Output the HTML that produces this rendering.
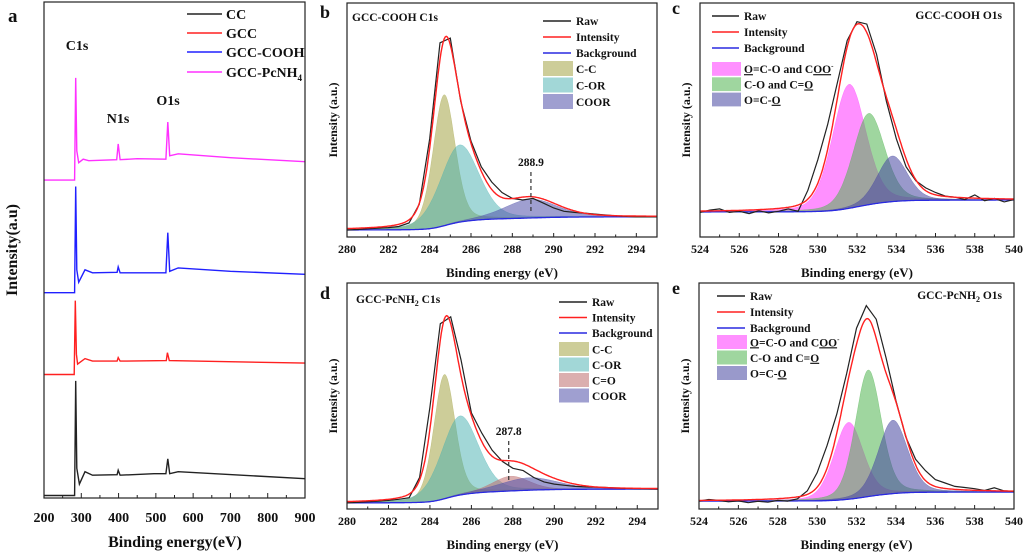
<!DOCTYPE html>
<html><head><meta charset="utf-8">
<style>
html,body{margin:0;padding:0;background:#fff;}
svg{display:block;font-family:"Liberation Serif",serif;font-weight:bold;}
</style></head>
<body>
<svg id="fig" width="1024" height="554" viewBox="0 0 1024 554" xmlns="http://www.w3.org/2000/svg"></svg>
<script>
// ---------- Panel a: survey data (eV, intensity 0-100) ----------
const surveyTicks = [200,300,400,500,600,700,800,900];
const pinkX = [200,282,285,288,293,305,320,395,399,404,450,527,532,537,560,700,900];
const pinkY = [64.1,64.1,84.7,70,67.6,68.3,68,68.2,71.4,68.2,68.4,68.3,75.8,69,69.4,68.6,67.8];
const blueX = [200,282,285,288,293,310,330,396,399,404,527,532,537,560,700,900];
const blueY = [41.4,41.4,62.8,46,43.5,46,45.4,45.5,46.6,45.4,45.4,53.5,45.7,46.4,45.7,45.1];
const redX = [200,281,284,287,290,310,330,396,399,404,528,531,536,900];
const redY = [24.9,24.9,39.8,29,27,28.1,27.6,27.6,28.3,27.6,27.7,29.3,27.7,27.2];
const blackX = [200,282,285,288,295,310,330,396,399,404,495,527,532,537,560,900];
const blackY = [0.5,0.5,23.6,6,2.8,5.3,4.6,4.7,5.6,4.6,4.9,4.9,7.9,4.9,5.3,3.9];

// ---------- Panel b: GCC-COOH C1s ----------
const bCenters = [284.7,285.45,288.9];
const bHeights = [56,33,8];
const bFwhm = [1.25,2.2,3.0];
const bBg = [3,8.6];
const bRawY = [3,3.2,3.5,3.8,4,4.5,6,14,42,83,85,58,41,30,23.5,19,16.5,15.8,16.5,14.5,12.4,11,10.5,10.2,9.8,9.4,9,8.8,8.6,8.6,8.6];
// ---------- Panel d: GCC-PcNH2 C1s ----------
const dCenters = [284.7,285.45,287.9,288.8];
const dHeights = [55,35,6.5,5.5];
const dFwhm = [1.2,2.1,2.1,3.3];
const dBg = [2.7,8.8];
const dRawY = [2.7,2.9,3.2,3.5,3.8,4.3,5,14,45,82,85,66,42.5,33.6,26,21,18,17,14,12,11,10.5,10,9.8,9.7,9.5,9.3,9.1,9,8.9,8.8];
// ---------- Panel c: GCC-COOH O1s ----------
const cCenters = [531.6,532.6,533.8];
const cHeights = [53,39,19.5];
const cFwhm = [2.0,1.9,1.8];
const cBg = [10.7,15.8];
const cRawY = [10.5,11.5,12,10.5,11,10,11.2,10.3,11,12,11,20,33,48,66,84,92,91,78,58,42,30,24,21,19,17.5,17,16,18,15.5,16.5,15,16];
// ---------- Panel e: GCC-PcNH2 O1s ----------
const eCenters = [531.6,532.6,533.85];
const eHeights = [34,56,32.5];
const eFwhm = [1.75,1.55,1.75];
const eBg = [3.5,7.5];
const eRawY = [3.5,4.2,3.8,3.2,3.6,2.8,3.4,3,3.8,3.5,4.5,8,16,28,42,60,80,90,84,67,48,32,22,17,13,11.5,10,9.5,9,8.2,9.4,8,7.8];

const C1sTicks = [280,282,284,286,288,290,292,294];
const O1sTicks = [524,526,528,530,532,534,536,538,540];

const NS = "http://www.w3.org/2000/svg";
const svg = document.getElementById('fig');
function el(tag, attrs, parent){
  const e = document.createElementNS(NS, tag);
  for (const k in attrs) e.setAttribute(k, attrs[k]);
  (parent||svg).appendChild(e);
  return e;
}
function txt(s, x, y, size, anchor, parent){
  const t = el('text', {x:x, y:y, 'font-size':size, 'text-anchor':anchor||'start', fill:'#111'}, parent);
  t.textContent = s;
  return t;
}

// ---------- Panel a ----------
(function(){
  const L=44,R=305,T=2,B=498;
  const g = el('g', {});
  
  
  const xs = v => L + (v-200)/(900-200)*(R-L);
  const ys = v => B - v/100*(B-T);
  const series = [[blackX,blackY,'#222','cc-survey-line'],[redX,redY,'#ff2020','gcc-survey-line'],[blueX,blueY,'#2020ff','gcc-cooh-survey-line'],[pinkX,pinkY,'#ff30ff','gcc-pcnh4-survey-line']];
  series.forEach(s=>{
    const pts = s[0].map((x,i)=>xs(x).toFixed(1)+','+ys(s[1][i]).toFixed(1)).join(' ');
    const p = el('polyline', {points:pts, fill:'none', stroke:s[2], 'stroke-width':1.4}, g);
    
    
  });
  const box = el('rect', {x:L,y:T,width:R-L,height:B-T,fill:'none',stroke:'#222','stroke-width':1.2}, g);
  
  
  surveyTicks.forEach(v=>{
    el('line',{x1:xs(v),x2:xs(v),y1:B,y2:B-5,stroke:'#222','stroke-width':1},g);
    if (v<900) el('line',{x1:xs(v+50),x2:xs(v+50),y1:B,y2:B-3,stroke:'#222','stroke-width':1},g);
    const t = txt(String(v), xs(v), 522, 14, 'middle', g);
    
    
  });
  const xt = txt('Binding energy(eV)', 175, 547, 16, 'middle', g);
  
  
  const yt = txt('Intensity(a.u)', 0, 0, 16, 'middle', g);
  yt.setAttribute('transform','translate(17,250) rotate(-90)');
  
  
  const names = ['CC','GCC','GCC-COOH','GCC-PcNH'];
  const cols = ['#222','#ff2020','#2020ff','#ff30ff'];
  const rows = [14,33,52,72];
  names.forEach((n,i)=>{
    const ln = el('line',{x1:187,x2:222,y1:rows[i],y2:rows[i],stroke:cols[i],'stroke-width':1.6},g);
    
    
    const t = txt(n, 226, rows[i]+5, 14, 'start', g);
    
    
    if (i===3){ const s = el('tspan',{'font-size':9,dy:4},t); s.textContent='4'; }
  });
  const l1 = txt('C1s', 77, 50, 14, 'middle', g);
  
  
  const l2 = txt('N1s', 118, 123, 14, 'middle', g);
  
  
  const l3 = txt('O1s', 168, 105, 14, 'middle', g);
  
  
  const pa = txt('a', 8, 22, 19, 'start', g);
  
  
})();

// ---------- XPS fit panels ----------
function pv(x, c, h, w){
  const d = x-c, hw = w/2;
  const gss = Math.exp(-4*Math.LN2*d*d/(w*w));
  const lor = 1/(1+(d/hw)*(d/hw));
  return h*(0.75*gss+0.25*lor);
}
function drawXPS(cfg){
  const g = el('g', {});
  
  
  const {L,R,T,B,x0,x1} = cfg;
  const xs = v => L + (v-x0)/(x1-x0)*(R-L);
  const ys = v => B - v/100*(B-T);
  const step = 0.05, N = Math.round((x1-x0)/step);
  const X = []; for(let i=0;i<=N;i++) X.push(x0+i*step);
  const comp = cfg.centers.map((c,k)=>X.map(x=>pv(x,c,cfg.heights[k],cfg.fwhm[k])));
  const tot = X.map((x,i)=>comp.reduce((s,cc)=>s+cc[i],0));
  let cum=0; const cu=[]; tot.forEach(v=>{cum+=v;cu.push(cum);});
  const bg = X.map((x,i)=>cfg.bg[0]+(cfg.bg[1]-cfg.bg[0])*cu[i]/cum);
  comp.forEach((cc,k)=>{
    let d = 'M'+X.map((x,i)=>xs(x).toFixed(1)+','+ys(bg[i]+cc[i]).toFixed(1)).join('L');
    for(let i=N;i>=0;i--) d += 'L'+xs(X[i]).toFixed(1)+','+ys(bg[i]).toFixed(1);
    const p = el('path',{d:d+'Z',fill:cfg.fills[k],stroke:cfg.fills[k],'stroke-width':0.5},g);
    
    
  });
  const bgl = el('polyline',{points:X.map((x,i)=>xs(x).toFixed(1)+','+ys(bg[i]).toFixed(1)).join(' '),fill:'none',stroke:'#2a2ae0','stroke-width':1.3},g);
  
  
  const raw = el('polyline',{points:cfg.raw.map((v,i)=>xs(x0+i*0.5).toFixed(1)+','+ys(v).toFixed(1)).join(' '),fill:'none',stroke:'#222','stroke-width':1.2},g);
  
  
  const fit = el('polyline',{points:X.map((x,i)=>xs(x).toFixed(1)+','+ys(bg[i]+tot[i]).toFixed(1)).join(' '),fill:'none',stroke:'#ff2020','stroke-width':1.4},g);
  
  
  const box = el('rect',{x:L,y:T,width:R-L,height:B-T,fill:'none',stroke:'#222','stroke-width':1.2},g);
  
  
  cfg.ticks.forEach((v,i)=>{
    el('line',{x1:xs(v),x2:xs(v),y1:B,y2:B-4,stroke:'#222'},g);
    if (v+1<=x1) el('line',{x1:xs(v+1),x2:xs(v+1),y1:B,y2:B-2.5,stroke:'#222'},g);
    const t = txt(String(v), xs(v), B+16, 12, 'middle', g);
    
    
  });
  const xt = txt('Binding energy (eV)', (L+R)/2, B+40, 13, 'middle', g);
  
  
  const yt = txt('Intensity (a.u.)', 0, 0, 12, 'middle', g);
  yt.setAttribute('transform','translate('+(L-10)+','+((T+B)/2)+') rotate(-90)');
  
  
  const tt = txt(cfg.title, cfg.titleX, cfg.titleY, 11.5, cfg.titleAnchor, g);
  
  
  if (cfg.titleSub){ const s1=el('tspan',{},tt); s1.textContent=cfg.titleSub[0];
    const s2=el('tspan',{'font-size':8,dy:3},tt); s2.textContent=cfg.titleSub[1];
    const s3=el('tspan',{dy:-3},tt); s3.textContent=cfg.titleSub[2]; }
  const pl = txt(cfg.letter, cfg.letterX, cfg.letterY, 18, 'start', g);
  
  
  const lg = cfg.lg;
  [['Raw','#222'],['Intensity','#ff2020'],['Background','#2a2ae0']].forEach((e,i)=>{
    const y = lg.y0 + i*lg.dy;
    const ln = el('line',{x1:lg.x,x2:lg.x+lg.w,y1:y,y2:y,stroke:e[1],'stroke-width':1.6},g);
    
    
    const t = txt(e[0], lg.x+lg.w+5, y+4, 11.5, 'start', g);
    
    
  });
  cfg.labels.forEach((lab,k)=>{
    const y = lg.b0 + k*lg.bdy;
    const r = el('rect',{x:lg.x,y:y,width:lg.w+2,height:lg.bdy-1.5,fill:cfg.fills[k]},g);
    
    
    const t = txt('', lg.x+lg.w+5, y+lg.bdy/2+3.5, 11.5, 'start', g);
    
    
    lab.split('_').forEach((part,j)=>{
      const s = el('tspan',j%2?{'text-decoration':'underline'}:{},t); s.textContent=part;
    });
    if (cfg.sup && k===0){ const s = el('tspan',{'font-size':7,dy:-5},t); s.textContent='-'; }
  });
  if (cfg.ann){
    const ax = xs(cfg.ann.x);
    const dl = el('line',{x1:ax,x2:ax,y1:cfg.ann.y1,y2:cfg.ann.y2,stroke:'#333','stroke-width':1.2,'stroke-dasharray':'4,3'},g);
    
    
    const t = txt(cfg.ann.label, ax, cfg.ann.y1-6, 11.5, 'middle', g);
    
    
  }
}
const cFills = ['rgba(175,175,90,0.62)','rgba(70,175,175,0.5)','rgba(80,80,170,0.55)'];
drawXPS({name:'gcc-cooh-c1s-panel',L:347,R:657,T:3,B:237,x0:280,x1:295,centers:bCenters,heights:bHeights,fwhm:bFwhm,bg:bBg,raw:bRawY,
  fills:cFills,labels:['C-C','C-OR','COOR'],ticks:C1sTicks,title:'GCC-COOH C1s',titleX:352,titleY:21,titleAnchor:'start',
  letter:'b',letterX:320,letterY:18,lg:{x:543,w:28,y0:21,dy:16,b0:61,bdy:16.5},ann:{x:288.9,label:'288.9',y1:172,y2:213}});
drawXPS({name:'gcc-pcnh2-c1s-panel',L:347,R:658,T:283,B:509,x0:280,x1:295,centers:dCenters,heights:dHeights,fwhm:dFwhm,bg:dBg,raw:dRawY,
  fills:['rgba(175,175,90,0.62)','rgba(70,175,175,0.5)','rgba(190,110,110,0.55)','rgba(80,80,170,0.55)'],labels:['C-C','C-OR','C=O','COOR'],ticks:C1sTicks,
  title:'',titleSub:['GCC-PcNH','2',' C1s'],titleX:356,titleY:303,titleAnchor:'start',
  letter:'d',letterX:320,letterY:299,lg:{x:559,w:28,y0:302,dy:15.5,b0:342,bdy:15.5},ann:{x:287.8,label:'287.8',y1:441,y2:480}});
const oFills = ['rgba(255,70,255,0.6)','rgba(80,180,80,0.55)','rgba(70,70,160,0.55)'];
drawXPS({name:'gcc-cooh-o1s-panel',L:700,R:1014,T:3,B:237,x0:524,x1:540,centers:cCenters,heights:cHeights,fwhm:cFwhm,bg:cBg,raw:cRawY,
  fills:oFills,labels:['_O_=C-O and C_OO_','C-O and C=_O_','O=C-_O_'],sup:true,ticks:O1sTicks,title:'GCC-COOH O1s',titleX:1002,titleY:19,titleAnchor:'end',
  letter:'c',letterX:672,letterY:14,lg:{x:712,w:27,y0:16,dy:16,b0:62,bdy:15.3}});
drawXPS({name:'gcc-pcnh2-o1s-panel',L:699,R:1014,T:283,B:509,x0:524,x1:540,centers:eCenters,heights:eHeights,fwhm:eFwhm,bg:eBg,raw:eRawY,
  fills:oFills,labels:['_O_=C-O and C_OO_','C-O and C=_O_','O=C-_O_'],sup:true,ticks:O1sTicks,title:'',titleSub:['GCC-PcNH','2',' O1s'],titleX:1002,titleY:299,titleAnchor:'end',
  letter:'e',letterX:672,letterY:294,lg:{x:717,w:28,y0:296,dy:16,b0:335,bdy:15.5}});
</script>
</body></html>
